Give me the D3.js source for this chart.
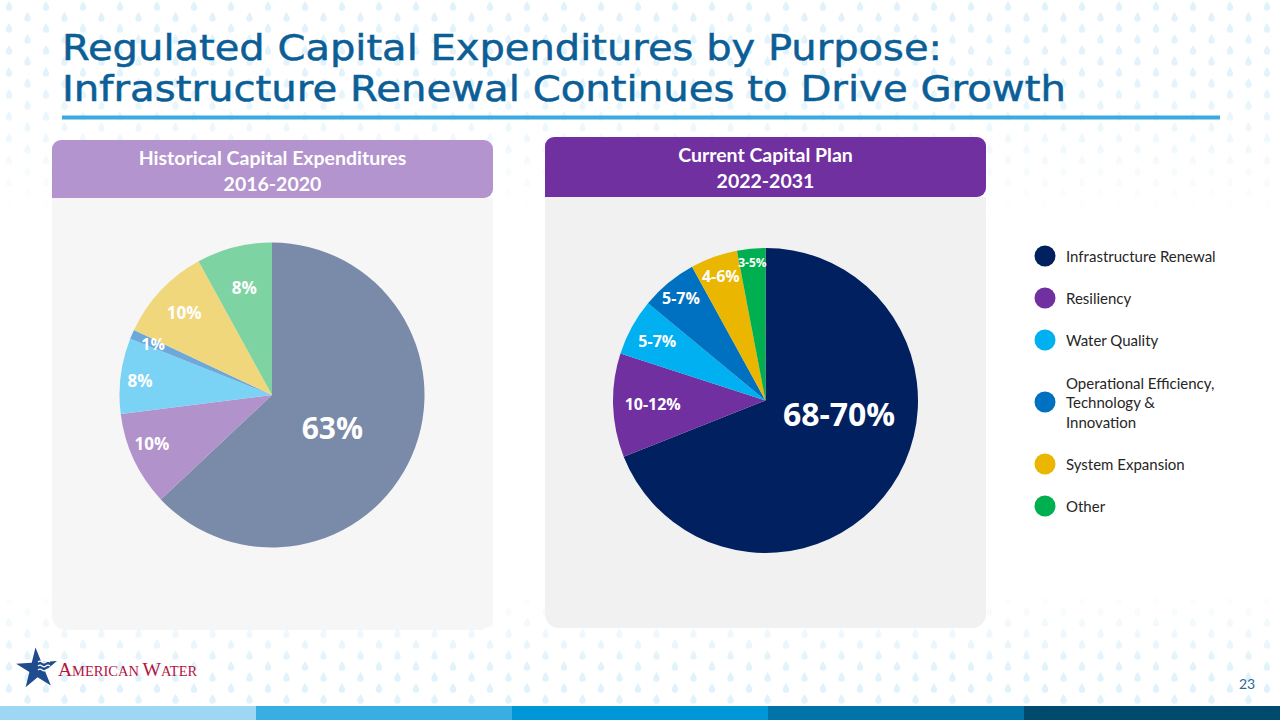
<!DOCTYPE html>
<html>
<head>
<meta charset="utf-8">
<script src="https://cdn.jsdelivr.net/npm/d3@7"></script>
<style>
  html, body { margin: 0; padding: 0; background: #fff; }
  svg { display: block; }
</style>
</head>
<body>
<div id="chart"></div>
<script>
// --- data ---
const categories = [
  "Infrastructure Renewal",
  "Resiliency",
  "Water Quality",
  "Operational Efficiency,\nTechnology &\nInnovation",
  "System Expansion",
  "Other"
];
const histValues = [63, 10, 8, 1, 10, 8];
const histLabels = ["63%", "10%", "8%", "1%", "10%", "8%"];
const planValues = [69, 11, 6, 6, 5, 3];
const planLabels = ["68-70%", "10-12%", "5-7%", "5-7%", "4-6%", "3-5%"];
const titleLines = [
  "Regulated Capital Expenditures by Purpose:",
  "Infrastructure Renewal Continues to Drive Growth"
];
const histHeader = ["Historical Capital Expenditures", "2016-2020"];
const planHeader = ["Current Capital Plan", "2022-2031"];
const pageNumber = "23";

// --- styling ---
const planColors = ["#002060", "#7030A0", "#00B0F0", "#0070C0", "#EAB600", "#00B050"];
const histColors = ["#7A8AA9", "#B292CB", "#7AD3F4", "#6DA8DA", "#F0D77C", "#7ED3A3"];
const footerColors = ["#9DD7F3", "#38AEE2", "#0097D9", "#0073A8", "#004B6D"];
const titleWidths = [880, 1004];
// label placement: [radius factor, angle nudge in degrees]
const histLabelPos = [[0.45, 5], [0.85, 3], [0.87, -1], [0.85, 0], [0.79, 0], [0.73, 0]];
const planLabelPos = [[0.49, -24], [0.74, 0], [0.81, 0], [0.87, 0], [0.865, 0], [0.91, 0]];
const histLabelSize = [30, 17, 17, 16, 17, 17];
const planLabelSize = [32, 16, 16, 16, 16, 12];

const W = 1280, H = 720;
const svg = d3.select("#chart").append("svg")
  .attr("width", W).attr("height", H)
  .attr("viewBox", `0 0 ${W} ${H}`);

const defs = svg.append("defs");

// water drop background pattern, faded in the middle of the slide
const pat = defs.append("pattern")
  .attr("id", "drops")
  .attr("patternUnits", "userSpaceOnUse")
  .attr("width", 37).attr("height", 22);
const dropPath = "M0,-5 C1.5,-2.5 3.2,-0.5 3.2,1.6 A3.2,3.2 0 0 1 -3.2,1.6 C-3.2,-0.5 -1.5,-2.5 0,-5 Z";
[[9, 6], [27.5, 17]].forEach(p => {
  pat.append("path").attr("d", dropPath)
    .attr("transform", `translate(${p[0]},${p[1]})`)
    .attr("fill", "#E0F2FB");
});
const grad = defs.append("linearGradient")
  .attr("id", "fadeGrad").attr("x1", 0).attr("y1", 0).attr("x2", 0).attr("y2", 1);
[[0, 1], [0.11, 0.9], [0.3, 0], [0.82, 0], [0.93, 1], [1, 1]].forEach(s => {
  grad.append("stop").attr("offset", s[0]).attr("stop-color", "#fff").attr("stop-opacity", s[1]);
});
const mask = defs.append("mask").attr("id", "fadeMask");
mask.append("rect").attr("width", W).attr("height", H).attr("fill", "url(#fadeGrad)");

svg.append("rect").attr("width", W).attr("height", H).attr("fill", "#fff");
svg.append("rect").attr("width", W).attr("height", 706)
  .attr("fill", "url(#drops)").attr("mask", "url(#fadeMask)");

// title, two lines stretched to the slide's widths
titleLines.forEach((t, i) => {
  svg.append("text")
    .attr("x", 62).attr("y", 59.5 + i * 41.5)
    .attr("font-family", "DejaVu Sans, Verdana, sans-serif")
    .attr("font-size", 35.5)
    .attr("textLength", titleWidths[i])
    .attr("lengthAdjust", "spacingAndGlyphs")
    .attr("fill", "#0B5E96")
    .attr("stroke", "#0B5E96").attr("stroke-width", 0.5)
    .text(t);
});

svg.append("rect").attr("x", 62).attr("y", 115.5).attr("width", 1158).attr("height", 4)
  .attr("fill", "#3BABDF");

// panels
function roundedPath(x, y, w, h, r) {
  const [tl, tr, br, bl] = r;
  return `M${x + tl},${y} H${x + w - tr} A${tr},${tr} 0 0 1 ${x + w},${y + tr}` +
    ` V${y + h - br} A${br},${br} 0 0 1 ${x + w - br},${y + h}` +
    ` H${x + bl} A${bl},${bl} 0 0 1 ${x},${y + h - bl}` +
    ` V${y + tl} A${tl},${tl} 0 0 1 ${x + tl},${y} Z`;
}

function panel(x, top, headH, bottom, headFill, bodyFill, lines) {
  const g = svg.append("g");
  g.append("path")
    .attr("d", roundedPath(x, top + headH, 441, bottom - top - headH, [0, 0, 14, 14]))
    .attr("fill", bodyFill);
  g.append("path")
    .attr("d", roundedPath(x, top, 441, headH, [9, 9, 9, 0]))
    .attr("fill", headFill);
  lines.forEach((l, i) => {
    g.append("text")
      .attr("x", x + 220.5).attr("y", top + 25 + i * 26)
      .attr("text-anchor", "middle")
      .attr("font-family", "Lato, 'Open Sans', sans-serif")
      .attr("font-weight", 700)
      .attr("font-size", 19.5)
      .attr("fill", "#fff")
      .text(l);
  });
}
panel(52, 140, 58, 630, "#B394CE", "#F6F6F6", histHeader);
panel(545, 137, 60, 628, "#7030A0", "#F1F1F1", planHeader);

// pies
const R = 152.5;
const arc = d3.arc().innerRadius(0).outerRadius(R);
const pie = d3.pie().sort(null).value(d => d);

function drawPie(cx, cy, values, labels, colors, labelPos, labelSize) {
  const g = svg.append("g").attr("transform", `translate(${cx},${cy})`);
  const arcs = pie(values);
  g.selectAll("path.slice").data(arcs).join("path")
    .attr("class", "slice")
    .attr("d", arc)
    .attr("fill", (d, i) => colors[i]);
  g.selectAll("text.lbl").data(arcs).join("text")
    .attr("class", "lbl")
    .attr("transform", (d, i) => {
      const a = (d.startAngle + d.endAngle) / 2 + labelPos[i][1] * Math.PI / 180;
      const r = R * labelPos[i][0];
      return `translate(${r * Math.sin(a)},${-r * Math.cos(a)})`;
    })
    .attr("text-anchor", "middle")
    .attr("dominant-baseline", "central")
    .attr("font-family", "'Open Sans', sans-serif")
    .attr("font-weight", 700)
    .attr("font-size", (d, i) => labelSize[i])
    .attr("fill", "#fff")
    .text((d, i) => labels[i]);
}
drawPie(272, 395, histValues, histLabels, histColors, histLabelPos, histLabelSize);
drawPie(765.5, 400.5, planValues, planLabels, planColors, planLabelPos, planLabelSize);

// legend
const legend = svg.append("g").attr("transform", "translate(1045,0)");
const lineH = 19.5;
let yCursor = 235;
categories.forEach((c, i) => {
  const lines = c.split("\n");
  const h = 42 + (lines.length - 1) * 20;
  const cy = yCursor + h / 2;
  yCursor += h;
  legend.append("circle").attr("cx", 0).attr("cy", cy).attr("r", 10.5).attr("fill", planColors[i]);
  const t = legend.append("text")
    .attr("x", 21).attr("y", cy - (lines.length - 1) * lineH / 2)
    .attr("dominant-baseline", "central")
    .attr("font-family", "Lato, 'Open Sans', sans-serif")
    .attr("font-size", 15)
    .attr("fill", "#262626");
  lines.forEach((l, j) => {
    t.append("tspan").attr("x", 21).attr("dy", j === 0 ? 0 : lineH).text(l);
  });
});

// footer bar
const fx = d3.scaleBand().domain(d3.range(footerColors.length)).range([0, W]);
svg.selectAll("rect.foot").data(footerColors).join("rect")
  .attr("class", "foot")
  .attr("x", (d, i) => fx(i)).attr("y", 706)
  .attr("width", fx.bandwidth() + 0.5).attr("height", 14)
  .attr("fill", d => d);

svg.append("text")
  .attr("x", 1247).attr("y", 689)
  .attr("text-anchor", "middle")
  .attr("font-family", "Lato, sans-serif")
  .attr("font-size", 14)
  .attr("fill", "#2A6A95")
  .text(pageNumber);

// logo
const logo = svg.append("g");
logo.append("path")
  .attr("d", d3.symbol(d3.symbolStar, 520)())
  .attr("transform", "translate(37,669) rotate(-4)")
  .attr("fill", "#1F4C8F");
[0, 4, 8].forEach(dy => {
  logo.append("path")
    .attr("d", `M38,${662 + dy} q2,-1.6 4,0 t4,0 t4,0`)
    .attr("fill", "none").attr("stroke", "#fff").attr("stroke-width", 1.2);
});
const lt = logo.append("text")
  .attr("x", 58).attr("y", 676)
  .attr("font-family", "'Liberation Serif', 'DejaVu Serif', serif")
  .attr("fill", "#B5123E");
lt.append("tspan").attr("font-size", 19.5).text("A");
lt.append("tspan").attr("font-size", 14.5).text("MERICAN ");
lt.append("tspan").attr("font-size", 19.5).text("W");
lt.append("tspan").attr("font-size", 14.5).text("ATER");
</script>
</body>
</html>
